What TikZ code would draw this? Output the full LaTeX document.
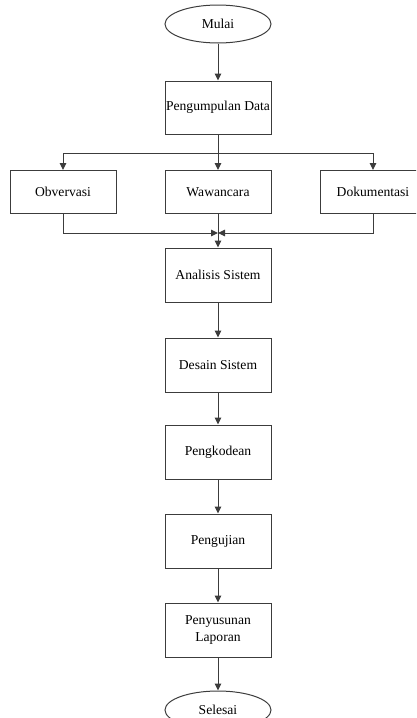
\documentclass[tikz,border=0pt]{standalone}
\usepackage{fontspec}
\setmainfont{Liberation Serif}
\usetikzlibrary{arrows.meta,shapes.geometric}
\definecolor{linec}{RGB}{60,60,60}
\begin{document}
\begin{tikzpicture}[x=1pt,y=-1pt,
  box/.style={draw=linec, line width=1pt, minimum width=106pt, minimum height=54pt, inner sep=0pt, align=center, font=\fontsize{13.6}{16.5}\selectfont, text=black},
  term/.style={ellipse, draw=linec, line width=1pt, minimum width=106pt, minimum height=38pt, inner sep=0pt, font=\fontsize{13.6}{16.5}\selectfont, text=black},
  conn/.style={draw=linec, line width=1pt},
  arr/.style={conn, -{Triangle[length=7pt,width=6.5pt]}}]
\useasboundingbox (0,0) rectangle (416,718);
\clip (0,0) rectangle (416,718);
\node[term] (mulai) at (218,24) {Mulai};
\node[box, minimum height=53pt] (pd) at (218,107.5) {Pengumpulan Data};
\node[box, minimum height=43pt] (obs) at (63,192) {Obvervasi};
\node[box, minimum height=43pt] (waw) at (218,192) {Wawancara};
\node[box, minimum height=43pt] (dok) at (373,192) {Dokumentasi};
\node[box] (ana) at (218,275) {Analisis Sistem};
\node[box] (des) at (218,365) {Desain Sistem};
\node[box] (pgk) at (218,452) {Pengkodean};
\node[box] (pgj) at (218,541) {Pengujian};
\node[box] (pny) at (218,630) {Penyusunan\\Laporan};
\node[term] (sls) at (218,710) {Selesai};
\coordinate (split) at (218,153);
\coordinate (merge) at (218,233);
\draw[arr] (mulai) -- (pd);
\draw[arr] (pd) -- (waw);
\draw[arr] (split) -| (obs.north);
\draw[arr] (split) -| (dok.north);
\draw[arr] (waw) -- (ana);
\draw[arr] (obs.south) |- (merge);
\draw[arr] (dok.south) |- (merge);
\draw[arr] (ana) -- (des);
\draw[arr] (des) -- (pgk);
\draw[arr] (pgk) -- (pgj);
\draw[arr] (pgj) -- (pny);
\draw[arr] (pny) -- (sls);
\end{tikzpicture}
\end{document}
